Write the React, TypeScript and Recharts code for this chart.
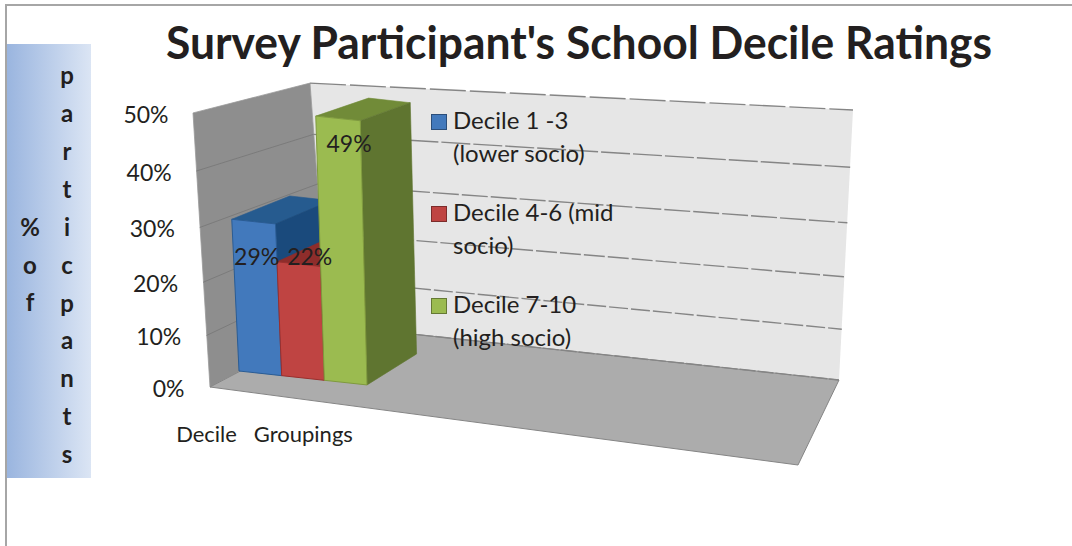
import React from "react";
import { BarChart, Bar, XAxis, YAxis, Legend, LabelList, Customized } from "recharts";

const categories = ["Decile   Groupings", "", ""];
const seriesNames = ["Decile 1 -3 (lower socio)", "Decile 4-6 (mid socio)", "Decile 7-10 (high socio)"];
const seriesValues = [29, 22, 49];
const yTicks = [0, 10, 20, 30, 40, 50];
const axisTitleLeft = ["%", "o", "f"];
const axisTitleRight = ["p", "a", "r", "t", "i", "c", "p", "a", "n", "t", "s"];

const data = categories.map((name, i) => ({
  name,
  s0: i === 0 ? seriesValues[0] : null,
  s1: i === 0 ? seriesValues[1] : null,
  s2: i === 0 ? seriesValues[2] : null,
}));

const FONT = "Lato, Carlito, sans-serif";
const INK = "#231f20";
const plot = { left: 205, right: 793, top: 113, bottom: 387 };
const faces = [
  { front: "#4279bc", top: "#265b8f", side: "#1a4a7c", edge: "#2a5c94" },
  { front: "#bf4442", top: "#8e2d2b", side: "#8e2d2b", edge: "#9a2f2d" },
  { front: "#9bbb50", top: "#718b38", side: "#5f7530", edge: "#7f9a3e" },
];
const labelOffsets = [
  [3, 38],
  [11, -5],
  [11, 28],
];

// Oblique projection of the flat plot into the picture's 3-D look.
const rise = (v: number) => 5 * v + 0.008 * v * v;
const valueAt = (y: number) => ((plot.bottom - y) / (plot.bottom - plot.top)) * 50;
const baseY = (x: number) => 371 + 0.109 * (x - 239);
const lean = (x: number) => -0.25 + 0.00088 * (x - 239);
const front = (x: number, v: number): [number, number] => [x + lean(x) * v, baseY(x) - rise(v)];
const back = (x: number, v: number): [number, number] => {
  const [fx, fy] = front(x, v);
  return [fx + 58 - 0.0625 * (fx - 232), fy - (31 - 0.265 * v)];
};
const pts = (list: [number, number][]) => list.map((p) => p.join(",")).join(" ");

// Wall corners: base point, lean per unit, height factor.
const corner = (bx: number, by: number, l: number, k: number) => (t: number): [number, number] => [
  bx + l * t,
  by - k * rise(t),
];
const frontLeft = corner(210, 387, -0.34, 1.015);
const backLeft = corner(328, 325, -0.36, 0.896);
const backRight = corner(839, 380, 0.28, 1);
const floorFrontRight: [number, number] = [798, 465];
const dashes: Record<number, string> = { 0: "16 2", 10: "19 3", 20: "21 3", 30: "26 3", 40: "29 3", 50: "36 4" };

const Scene = () => (
  <g>
    <defs>
      <linearGradient id="axisBox" x1="0" x2="1" y1="0" y2="0">
        <stop offset="0" stopColor="#9ab5df" />
        <stop offset="1" stopColor="#dbe5f4" />
      </linearGradient>
    </defs>
    <path d="M6 546V5H1072" fill="none" stroke="#a6a6a6" strokeWidth={2} />
    <rect x={7} y={44} width={84} height={434} fill="url(#axisBox)" />
    {axisTitleLeft.map((c, i) => (
      <text key={i} x={30} y={230 + i * 37.5} textAnchor="middle" dominantBaseline="middle" fontFamily={FONT} fontWeight={700} fontSize={24} fill={INK}>
        {c}
      </text>
    ))}
    {axisTitleRight.map((c, i) => (
      <text key={i} x={67} y={78 + i * 37.9} textAnchor="middle" dominantBaseline="middle" fontFamily={FONT} fontWeight={700} fontSize={24} fill={INK}>
        {c}
      </text>
    ))}
    <text x={579} y={59} textAnchor="middle" fontFamily={FONT} fontWeight={700} fontSize={46} fill={INK} textLength={826} lengthAdjust="spacingAndGlyphs">
      Survey Participant's School Decile Ratings
    </text>

    <polygon points={pts([backLeft(0), backRight(0), backRight(50), backLeft(50)])} fill="#e6e6e6" />
    <polygon points={pts([frontLeft(0), backLeft(0), backLeft(50), frontLeft(50)])} fill="#8e8e8e" stroke="#9a9a9a" strokeWidth={0.8} />
    <polygon points={pts([frontLeft(0), backLeft(0), backRight(0), floorFrontRight])} fill="#acacac" stroke="#858585" strokeWidth={1} />
    {yTicks.map((t) => (
      <g key={t}>
        <line x1={backLeft(t)[0]} y1={backLeft(t)[1]} x2={backRight(t)[0]} y2={backRight(t)[1]} stroke="#858585" strokeWidth={1.4} strokeDasharray={dashes[t]} />
        {t > 0 && t < 50 && (
          <line x1={frontLeft(t)[0]} y1={frontLeft(t)[1]} x2={backLeft(t)[0]} y2={backLeft(t)[1]} stroke="#7b7b7b" strokeWidth={1} />
        )}
      </g>
    ))}
  </g>
);

const BarShape = (i: number) => (props: any) => {
  const { x, y, width } = props;
  if (!Number.isFinite(y) || !width) return null;
  const v = valueAt(y);
  if (v <= 0) return null;
  const c = faces[i];
  const r = x + width;
  return (
    <g>
      <polygon points={pts([back(x, v), back(r, v), front(r, v), front(x, v)])} fill={c.top} stroke={c.top} strokeWidth={0.6} />
      <polygon points={pts([front(r, 0), front(r, v), back(r, v), back(r, 0)])} fill={c.side} stroke={c.side} strokeWidth={0.6} />
      <polygon points={pts([front(x, 0), front(r, 0), front(r, v), front(x, v)])} fill={c.front} stroke={c.edge} strokeWidth={1} />
    </g>
  );
};

const BarLabel = (i: number) => (props: any) => {
  const { x, y, width, value } = props;
  if (value == null || !Number.isFinite(y)) return null;
  const v = valueAt(y);
  const mid = x + width / 2;
  const [px, py] = front(mid, v);
  return (
    <text x={px + labelOffsets[i][0]} y={py + labelOffsets[i][1]} textAnchor="middle" dominantBaseline="middle" fontFamily={FONT} fontSize={23} fill={INK}>
      {value}%
    </text>
  );
};

const YTick = (props: any) => {
  const t = props.payload.value;
  return (
    <text x={184.5 - 0.32 * t} y={frontLeft(t)[1] + 4} textAnchor="end" dominantBaseline="middle" fontFamily={FONT} fontSize={23} fill={INK}>
      {t}%
    </text>
  );
};

const XTick = (props: any) => {
  const label = props.payload.value;
  if (!label) return null;
  return (
    <text x={props.x - 38.5} y={436} textAnchor="middle" dominantBaseline="middle" fontFamily={FONT} fontSize={22} fill={INK} style={{ whiteSpace: "pre" }}>
      {label}
    </text>
  );
};

const LegendBox = (props: any) => (
  <div style={{ fontFamily: FONT, fontSize: 24, lineHeight: "33px", color: INK }}>
    {props.payload.map((e: any) => (
      <div key={e.value} style={{ position: "relative", height: 92, paddingLeft: 22, width: 170 }}>
        <span style={{ position: "absolute", left: 0, top: 11, width: 16, height: 16, boxSizing: "border-box", background: e.color, border: "1.5px solid rgba(0,0,0,0.35)" }} />
        {e.value}
      </div>
    ))}
  </div>
);

export default function App() {
  return (
    <div style={{ position: "absolute", left: 0, top: 0, width: 1072, height: 546, background: "#fff" }}>
      <BarChart
        width={1072}
        height={546}
        data={data}
        barGap={0}
        margin={{ top: plot.top, left: plot.left - 100, right: 1072 - plot.right, bottom: 546 - plot.bottom - 60 }}
      >
        <Customized component={Scene} />
        <XAxis dataKey="name" height={60} axisLine={false} tickLine={false} tick={XTick} interval={0} />
        <YAxis width={100} domain={[0, 50]} ticks={yTicks} axisLine={false} tickLine={false} tick={YTick} />
        <Legend
          layout="horizontal"
          verticalAlign="middle"
          align="center"
          wrapperStyle={{ left: 431, top: 103, width: 200 }}
          content={LegendBox}
        />
        {seriesValues.map((_, i) => (
          <Bar key={i} dataKey={`s${i}`} name={seriesNames[i]} fill={faces[i].front} barSize={42.67} shape={BarShape(i)} isAnimationActive={false}>
            <LabelList dataKey={`s${i}`} content={BarLabel(i)} />
          </Bar>
        ))}
      </BarChart>
    </div>
  );
}
